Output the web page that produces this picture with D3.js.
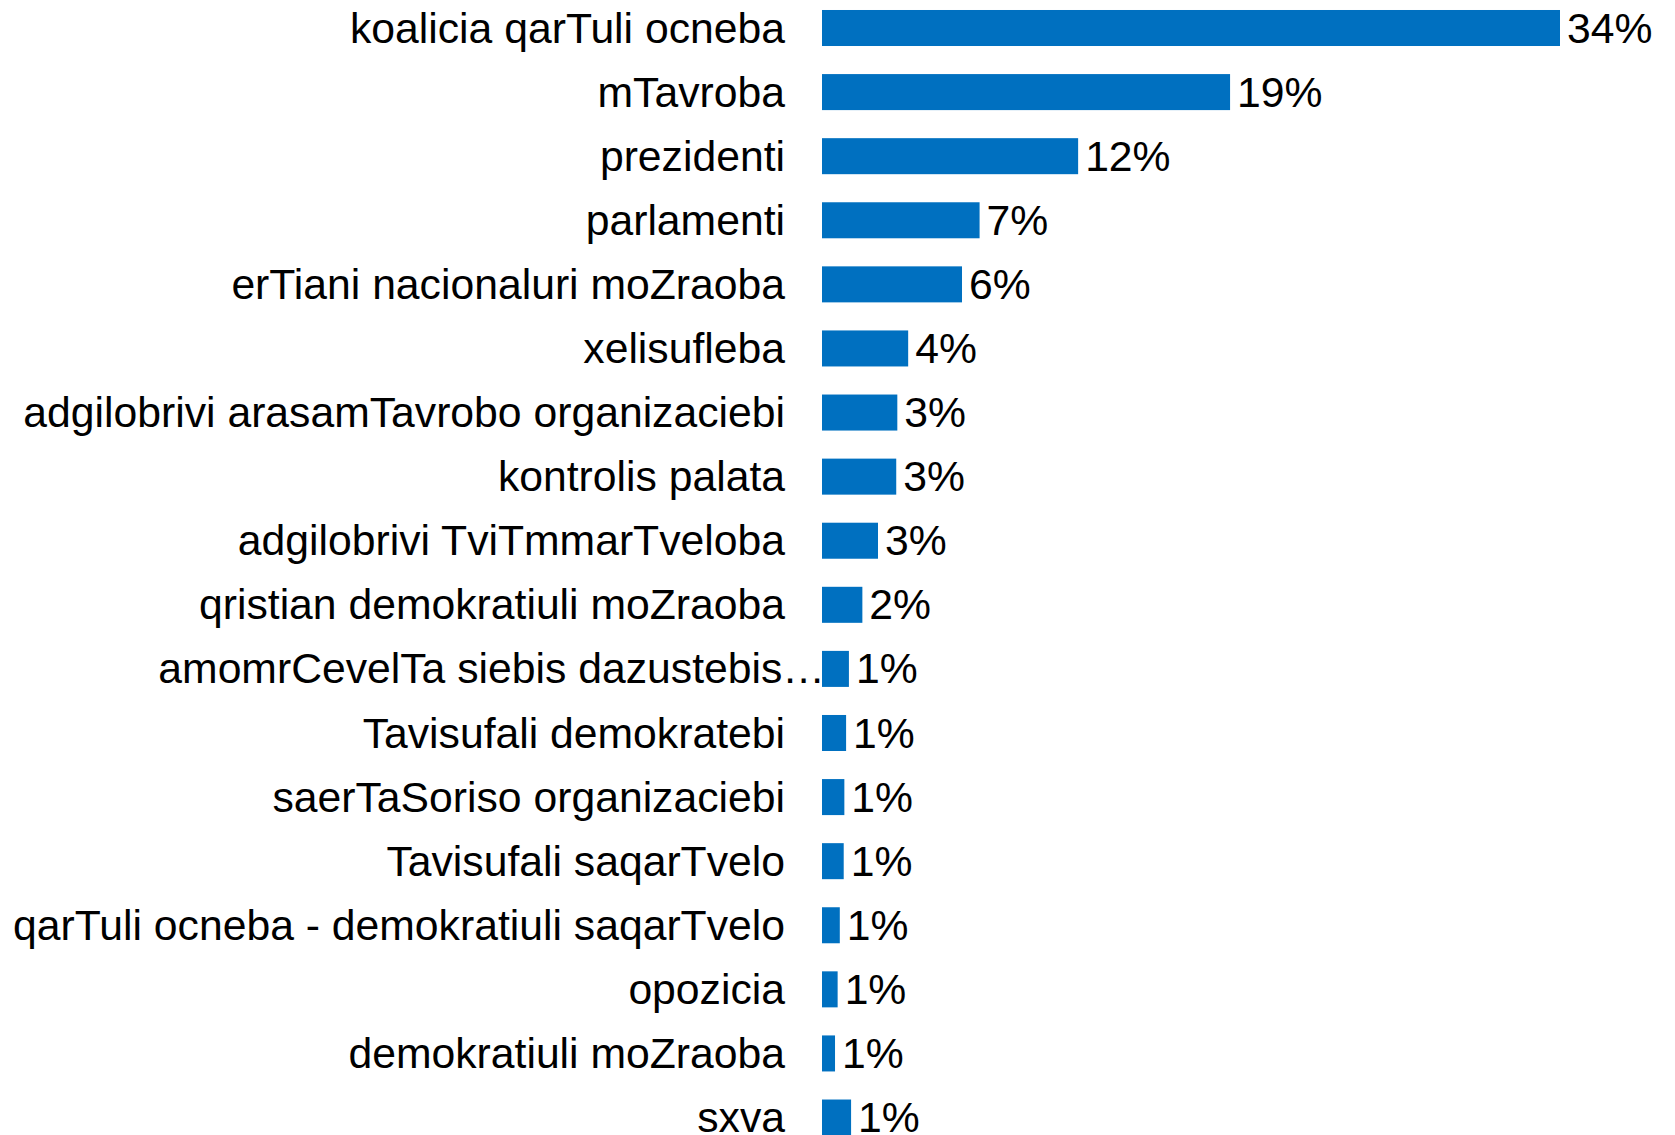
<!DOCTYPE html>
<html>
<head>
<meta charset="utf-8">
<script src="https://cdn.jsdelivr.net/npm/d3@7"></script>
<style>
  html, body { margin: 0; padding: 0; background: #fff; }
  svg { display: block; }
</style>
</head>
<body>
<div id="chart"></div>
<script>
// ---- data ----
const categories = [
  "koalicia qarTuli ocneba",
  "mTavroba",
  "prezidenti",
  "parlamenti",
  "erTiani nacionaluri moZraoba",
  "xelisufleba",
  "adgilobrivi arasamTavrobo organizaciebi",
  "kontrolis palata",
  "adgilobrivi TviTmmarTveloba",
  "qristian demokratiuli moZraoba",
  "amomrCevelTa siebis dazustebis…",
  "Tavisufali demokratebi",
  "saerTaSoriso organizaciebi",
  "Tavisufali saqarTvelo",
  "qarTuli ocneba - demokratiuli saqarTvelo",
  "opozicia",
  "demokratiuli moZraoba",
  "sxva"
];
const values = [
  0.340, 0.188, 0.118, 0.0726, 0.0645, 0.0397, 0.0347, 0.0342, 0.0258,
  0.0186, 0.0124, 0.0111, 0.0103, 0.0100, 0.0082, 0.0072, 0.0060, 0.0134
];

// ---- layout ----
const W = 1675, H = 1135;
const barX0 = 822, barX1 = 1560;
const labelRight = 785;
const step = 64.09;
const topY = 28 - step / 2;
const fontSize = 42.7;
const barColor = "#0070C0";

const svg = d3.select("#chart").append("svg")
  .attr("width", W).attr("height", H)
  .style("font-family", "'Liberation Sans', Arial, sans-serif");

const x = d3.scaleLinear().domain([0, 0.34]).range([barX0, barX1]);
const y = d3.scaleBand().domain(categories)
  .range([topY, topY + step * categories.length])
  .paddingInner(0.438).paddingOuter(0.219);

const fmt = d3.format(".0%");
const data = categories.map((c, i) => ({ c, v: values[i] }));

svg.append("g").selectAll("rect").data(data).join("rect")
  .attr("x", x(0))
  .attr("y", d => y(d.c))
  .attr("width", d => x(d.v) - x(0))
  .attr("height", y.bandwidth())
  .attr("fill", barColor);

svg.append("g").selectAll("text").data(data).join("text")
  .attr("x", d => d.c.endsWith("…") ? barX0 + 3 : labelRight)
  .attr("y", d => y(d.c) + y.bandwidth() / 2)
  .attr("dy", "0.34em")
  .attr("text-anchor", "end")
  .attr("font-size", fontSize)
  .attr("fill", "#000")
  .text(d => d.c);

svg.append("g").selectAll("text").data(data).join("text")
  .attr("x", d => x(d.v) + 7)
  .attr("y", d => y(d.c) + y.bandwidth() / 2)
  .attr("dy", "0.34em")
  .attr("text-anchor", "start")
  .attr("font-size", fontSize)
  .attr("fill", "#000")
  .text(d => fmt(d.v));
</script>
</body>
</html>
